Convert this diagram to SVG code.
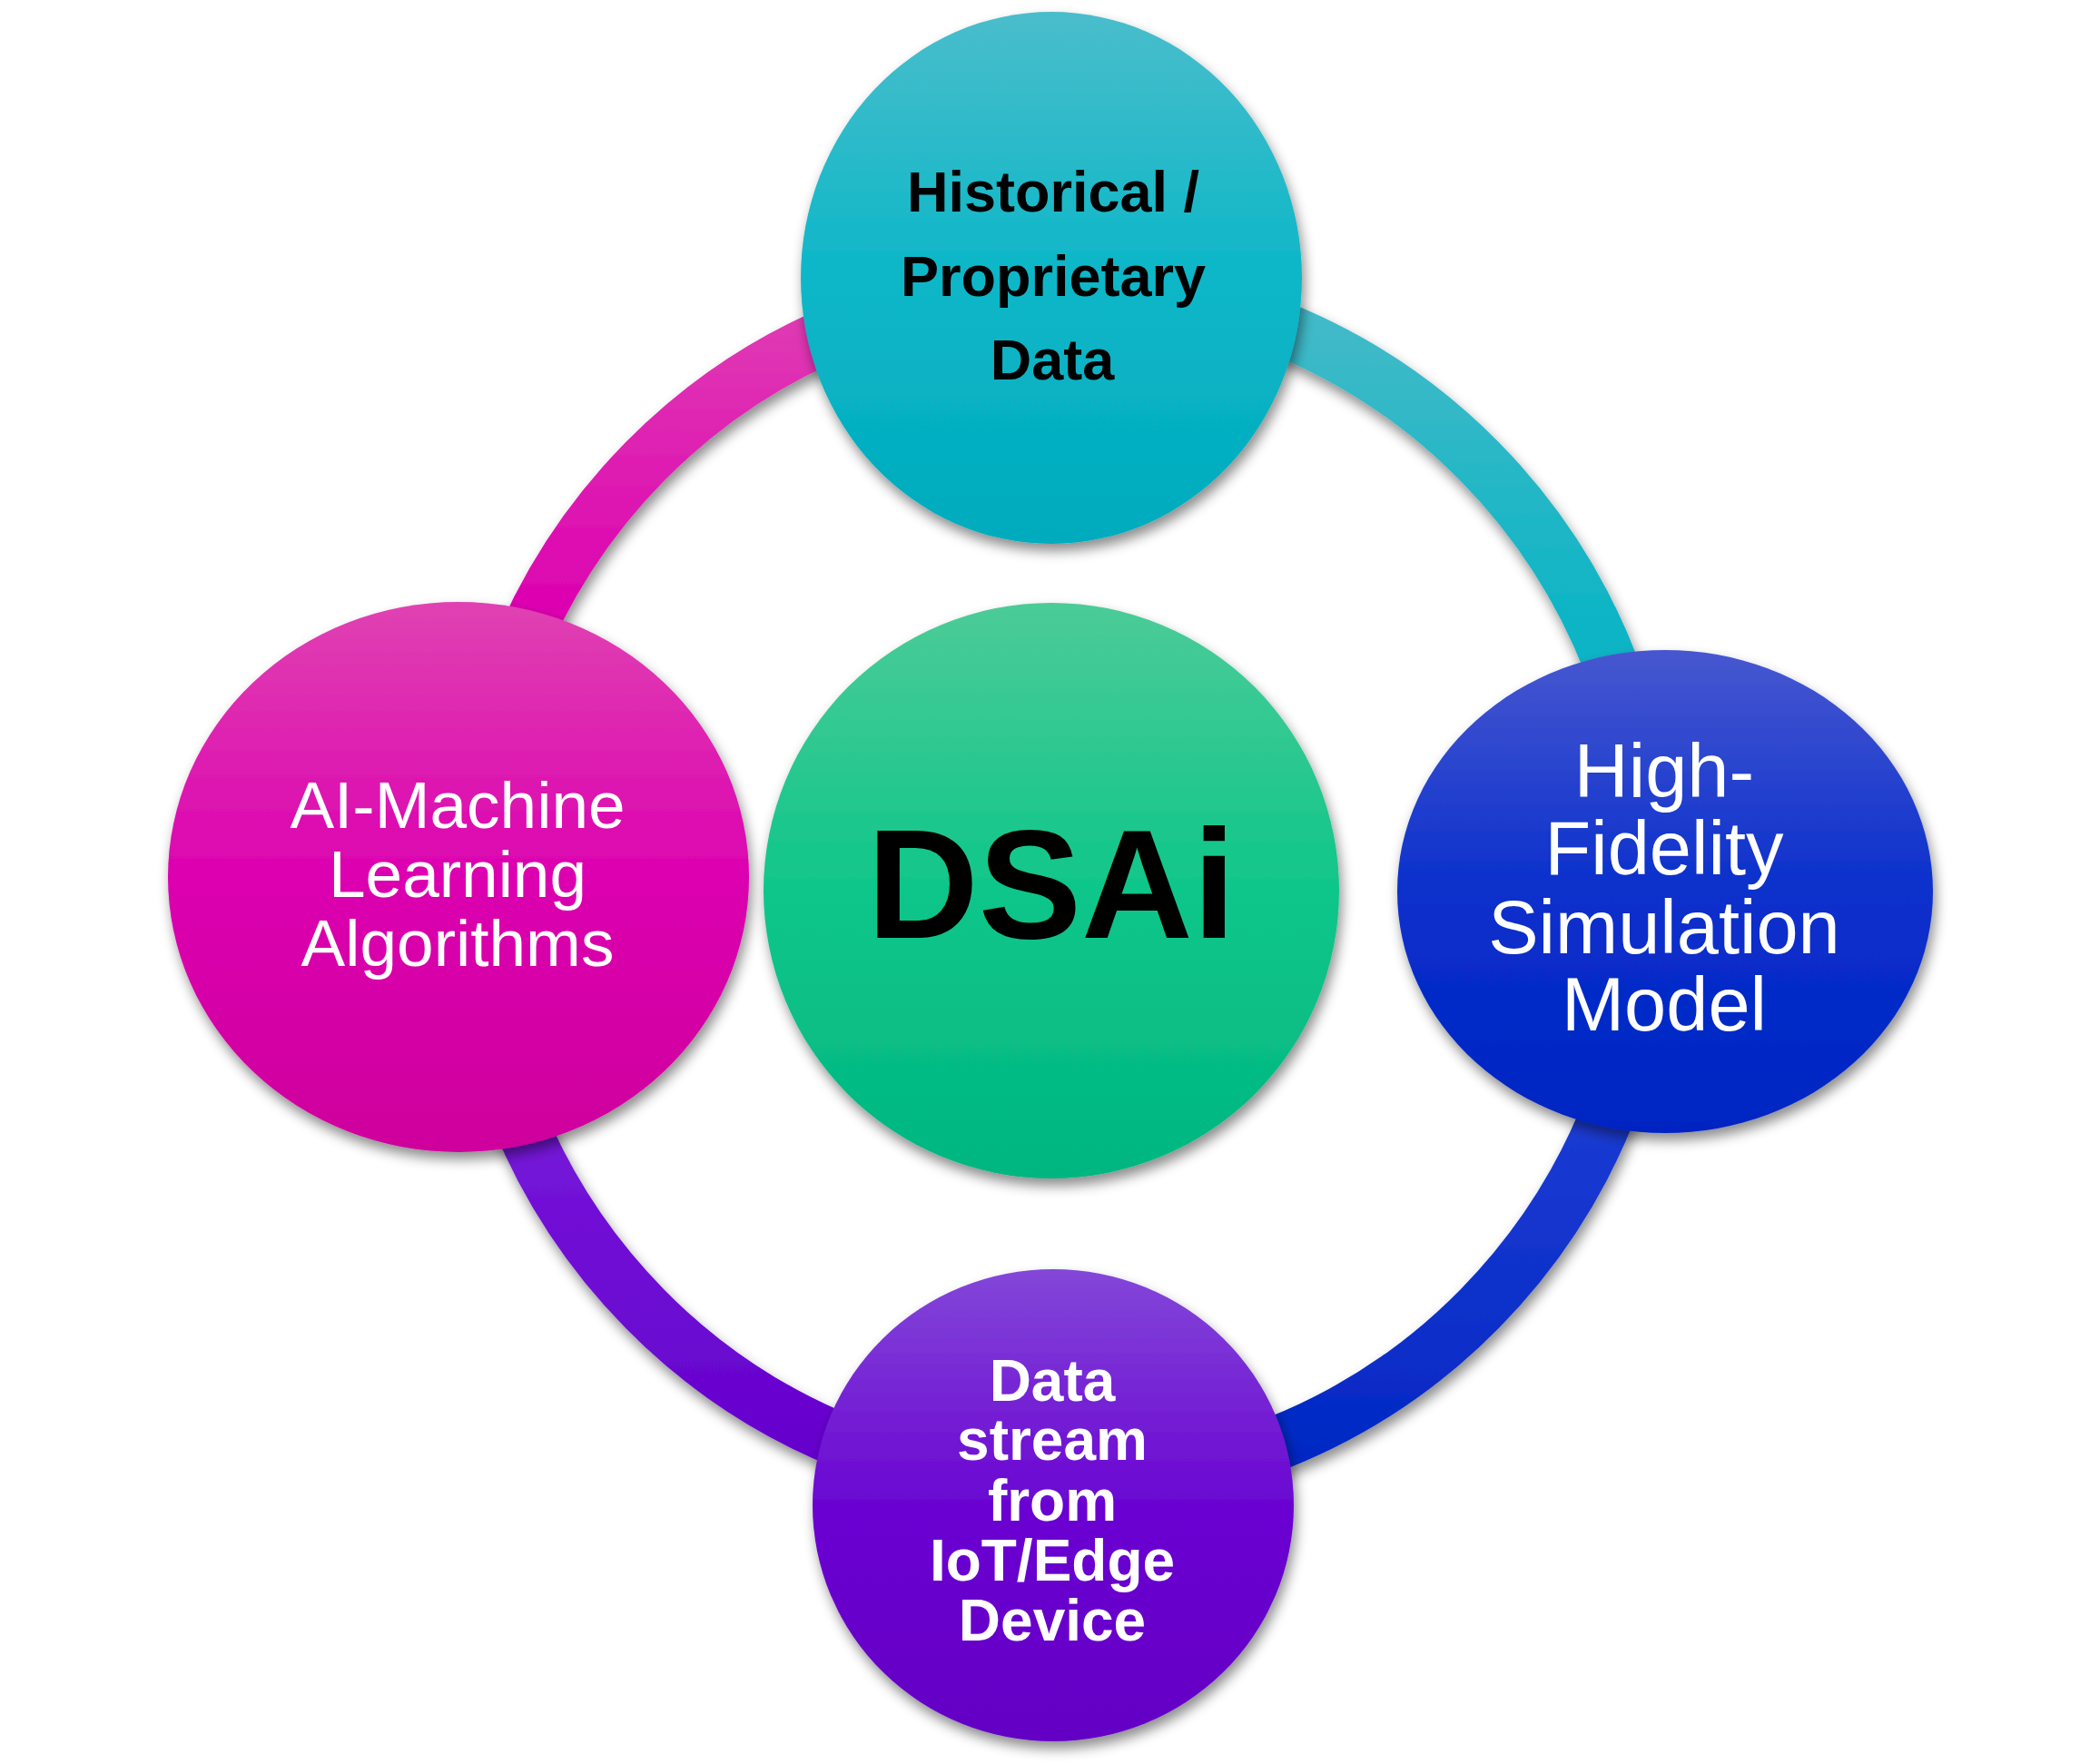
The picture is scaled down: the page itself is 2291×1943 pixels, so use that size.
<svg xmlns="http://www.w3.org/2000/svg" width="2291" height="1943" viewBox="0 0 2291 1943">
<defs>
  <filter id="shadow" x="-20%" y="-20%" width="140%" height="140%">
    <feDropShadow dx="3" dy="8" stdDeviation="7" flood-color="#000" flood-opacity="0.45"/>
  </filter>
  <linearGradient id="gTop" x1="0" y1="0" x2="0" y2="1">
    <stop offset="0" stop-color="#4abdcb"/>
    <stop offset="0.5" stop-color="#0bb7c8"/>
    <stop offset="1" stop-color="#02abbd"/>
  </linearGradient>
  <linearGradient id="gRight" x1="0" y1="0" x2="0" y2="1">
    <stop offset="0" stop-color="#4757d0"/>
    <stop offset="0.5" stop-color="#0a30cc"/>
    <stop offset="1" stop-color="#0024c2"/>
  </linearGradient>
  <linearGradient id="gBottom" x1="0" y1="0" x2="0" y2="1">
    <stop offset="0" stop-color="#8347d8"/>
    <stop offset="0.5" stop-color="#6a05d2"/>
    <stop offset="1" stop-color="#6400c4"/>
  </linearGradient>
  <linearGradient id="gLeft" x1="0" y1="0" x2="0" y2="1">
    <stop offset="0" stop-color="#e042b2"/>
    <stop offset="0.5" stop-color="#dc02b0"/>
    <stop offset="1" stop-color="#ce009c"/>
  </linearGradient>
  <linearGradient id="gCenter" x1="0" y1="0" x2="0" y2="1">
    <stop offset="0" stop-color="#4ccb98"/>
    <stop offset="0.5" stop-color="#0fc68a"/>
    <stop offset="1" stop-color="#00b680"/>
  </linearGradient>
  <linearGradient id="aTL" gradientUnits="userSpaceOnUse" x1="0" y1="340" x2="0" y2="680">
    <stop offset="0" stop-color="#e03cb4"/>
    <stop offset="1" stop-color="#dc00b0"/>
  </linearGradient>
  <linearGradient id="aTR" gradientUnits="userSpaceOnUse" x1="0" y1="350" x2="0" y2="720">
    <stop offset="0" stop-color="#42bac8"/>
    <stop offset="1" stop-color="#07b4c5"/>
  </linearGradient>
  <linearGradient id="aBR" gradientUnits="userSpaceOnUse" x1="0" y1="1250" x2="0" y2="1620">
    <stop offset="0" stop-color="#1a3ad2"/>
    <stop offset="1" stop-color="#0127c3"/>
  </linearGradient>
  <linearGradient id="aBL" gradientUnits="userSpaceOnUse" x1="0" y1="1270" x2="0" y2="1620">
    <stop offset="0" stop-color="#7414d8"/>
    <stop offset="1" stop-color="#6400cc"/>
  </linearGradient>
</defs>
<style>
  .arc { fill: none; stroke-width: 60; filter: url(#shadow); }
  .node { filter: url(#shadow); }
  .t { font-family: "Liberation Sans", Arial, sans-serif; text-anchor: middle; }
  .bold { font-weight: bold; }
</style>
<rect width="2291" height="1943" fill="#ffffff"/>
<g id="connectors">
  <path class="arc" stroke="url(#aTL)" d="M 1170 315 A 650 660 0 0 0 520 975"/>
  <path class="arc" stroke="url(#aTR)" d="M 1170 315 A 650 660 0 0 1 1820 975"/>
  <path class="arc" stroke="url(#aBR)" d="M 1820 975 A 650 660 0 0 1 1170 1635"/>
  <path class="arc" stroke="url(#aBL)" d="M 1170 1635 A 650 660 0 0 1 520 975"/>
</g>
<g id="node-center" class="node">
  <ellipse cx="1158" cy="981" rx="317" ry="317" fill="url(#gCenter)"/>
  <text class="t bold" x="1158" y="1033" font-size="170" fill="#000">DSAi</text>
</g>
<g id="node-top" class="node">
  <ellipse cx="1158" cy="306" rx="276" ry="293" fill="url(#gTop)"/>
  <text class="t bold" font-size="63" fill="#000"><tspan x="1160" y="233">Historical /</tspan><tspan x="1160" y="326">Proprietary</tspan><tspan x="1159" y="418">Data</tspan></text>
</g>
<g id="node-right" class="node">
  <ellipse cx="1834" cy="982" rx="295" ry="266" fill="url(#gRight)"/>
  <text class="t" font-size="83" fill="#fff"><tspan x="1833" y="878">High-</tspan><tspan x="1833" y="963">Fidelity</tspan><tspan x="1833" y="1050">Simulation</tspan><tspan x="1833" y="1135">Model</tspan></text>
</g>
<g id="node-bottom" class="node">
  <ellipse cx="1160" cy="1658" rx="265" ry="260" fill="url(#gBottom)"/>
  <text class="t bold" font-size="64" fill="#fff"><tspan x="1159" y="1543">Data</tspan><tspan x="1159" y="1608">stream</tspan><tspan x="1159" y="1675">from</tspan><tspan x="1159" y="1741">IoT/Edge</tspan><tspan x="1159" y="1807">Device</tspan></text>
</g>
<g id="node-left" class="node">
  <ellipse cx="505" cy="966" rx="320" ry="303" fill="url(#gLeft)"/>
  <text class="t" font-size="73" fill="#fff"><tspan x="504" y="912">AI-Machine</tspan><tspan x="504" y="988">Learning</tspan><tspan x="504" y="1064">Algorithms</tspan></text>
</g>
</svg>
